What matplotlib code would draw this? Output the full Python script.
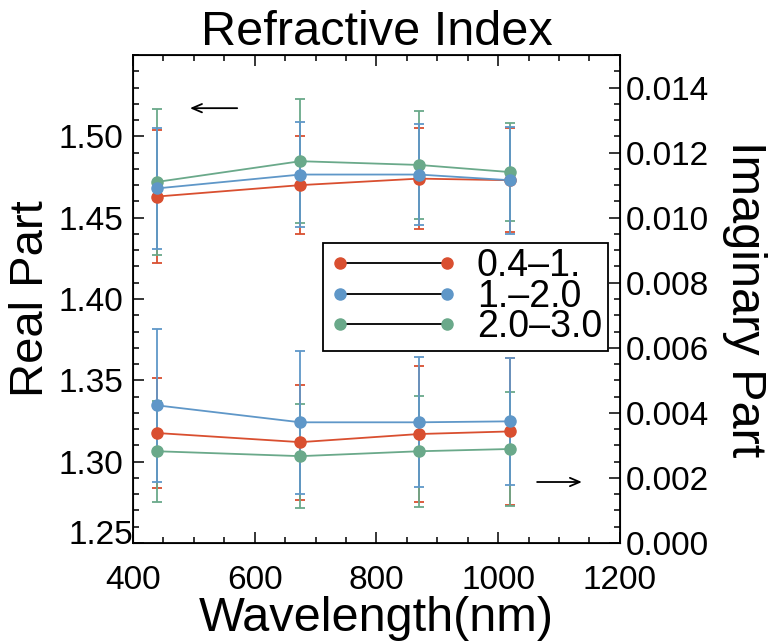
import matplotlib
matplotlib.use('Agg')
import matplotlib.pyplot as plt
from matplotlib.lines import Line2D
from matplotlib.ticker import MultipleLocator, FormatStrFormatter
from matplotlib.transforms import ScaledTranslation

plt.rcParams['font.family'] = ['Liberation Sans', 'DejaVu Sans']

# wavelengths (nm)
wavelength = [440, 675, 870, 1020]
labels = ['0.4\u20131.', '1.\u20132.0', '2.0\u20133.0']
colors = ['#d94f30', '#5f97c8', '#6aa98a']

# real part (left axis) and its errors
real_red = [1.463, 1.470, 1.474, 1.473]
real_blue = [1.468, 1.4765, 1.4765, 1.473]
real_green = [1.472, 1.4847, 1.4824, 1.478]
real_err_red = [0.041, 0.030, 0.031, 0.032]
real_err_blue = [0.037, 0.032, 0.031, 0.033]
real_err_green = [0.045, 0.038, 0.033, 0.030]

# imaginary part (right axis) and its errors
imag_red = [0.00338, 0.00310, 0.00335, 0.00343]
imag_blue = [0.00423, 0.00371, 0.00371, 0.00374]
imag_green = [0.00282, 0.00267, 0.00282, 0.00289]
imag_err_red = [0.0017, 0.00177, 0.0021, 0.00225]
imag_err_blue = [0.00235, 0.0022, 0.0020, 0.00195]
imag_err_green = [0.00156, 0.0016, 0.0017, 0.00176]

fig = plt.figure(figsize=(7.71, 6.43), dpi=100)
ax = fig.add_axes([0.1725, 0.1555, 0.6315, 0.759])
ax2 = ax.twinx()

real_sets = [(real_red, real_err_red), (real_green, real_err_green), (real_blue, real_err_blue)]
imag_sets = [(imag_red, imag_err_red), (imag_green, imag_err_green), (imag_blue, imag_err_blue)]
order_colors = [colors[0], colors[2], colors[1]]

for (vals, errs), c in zip(real_sets, order_colors):
    ax.errorbar(wavelength, vals, yerr=errs, color=c, marker='o', ms=8, lw=1.3,
                elinewidth=1.3, capsize=3.5, capthick=1.3)
for (vals, errs), c in zip(imag_sets, order_colors):
    ax2.errorbar(wavelength, vals, yerr=errs, color=c, marker='o', ms=8, lw=1.3,
                 elinewidth=1.3, capsize=3.5, capthick=1.3)

ax.set_xlim(400, 1200)
ax.set_ylim(1.25, 1.55)
ax2.set_ylim(0, 0.015)

ax.xaxis.set_major_locator(MultipleLocator(200))
ax.xaxis.set_minor_locator(MultipleLocator(50))
ax.set_yticks([1.25, 1.30, 1.35, 1.40, 1.45, 1.50])
ax.yaxis.set_minor_locator(MultipleLocator(0.01))
ax2.yaxis.set_major_locator(MultipleLocator(0.002))
ax2.yaxis.set_minor_locator(MultipleLocator(0.0005))
ax.yaxis.set_major_formatter(FormatStrFormatter('%.2f'))
ax2.yaxis.set_major_formatter(FormatStrFormatter('%.3f'))

ax.tick_params(axis='x', which='both', direction='in', top=True, labelsize=24, pad=16)
ax.tick_params(axis='y', which='both', direction='in', right=False, labelsize=24, pad=7)
ax2.tick_params(axis='y', which='both', direction='in', labelsize=24, pad=4)
for a in (ax, ax2):
    a.tick_params(which='major', length=8, width=1.1)
    a.tick_params(which='minor', length=4, width=1.1)
for s in ax.spines.values():
    s.set_linewidth(1.3)

# bottom labels sit a little higher, as in the original
ax.yaxis.get_major_ticks()[0].label1.set_transform(
    ax.get_yaxis_transform(which='tick1') + ScaledTranslation(0, 8 / 72, fig.dpi_scale_trans))
ax2.yaxis.get_major_ticks()[0].label2.set_transform(
    ax2.get_yaxis_transform(which='tick2') + ScaledTranslation(0, 3 / 72, fig.dpi_scale_trans))

ax.set_xlabel('Wavelength(nm)', fontsize=35, labelpad=0)
ax.set_ylabel('Real Part', fontsize=34, labelpad=4)
ax2.set_ylabel('Imaginary Part', fontsize=35, rotation=-90, labelpad=42)
ax.set_title('Refractive Index', fontsize=35, pad=2)

ax.annotate('', xy=(0.117, 0.891), xytext=(0.214, 0.891), xycoords='axes fraction',
            arrowprops=dict(arrowstyle='->,head_length=0.7,head_width=0.3', lw=1.3, color='black',
                            shrinkA=0, shrinkB=0))
ax.annotate('', xy=(0.922, 0.125), xytext=(0.830, 0.125), xycoords='axes fraction',
            arrowprops=dict(arrowstyle='->,head_length=0.7,head_width=0.3', lw=1.3, color='black',
                            shrinkA=0, shrinkB=0))

handles = [Line2D([0], [0], color='black', lw=1.3, marker='o', ms=8,
                  markerfacecolor=c, markeredgecolor=c) for c in colors]
leg = ax2.legend(handles, labels, loc='upper left', bbox_to_anchor=(0.39, 0.615),
                 fontsize=27, numpoints=2, handlelength=3.45, fancybox=False,
                 framealpha=1, edgecolor='black', borderpad=0.15, labelspacing=-0.15,
                 handletextpad=0.5, borderaxespad=0)
leg.get_frame().set_linewidth(1.3)

fig.savefig('out.png', dpi=100)
